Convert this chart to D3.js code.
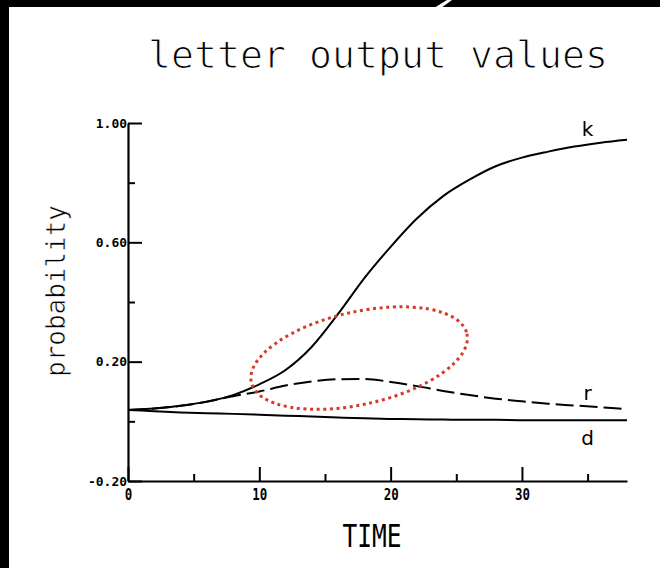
<!DOCTYPE html>
<html>
<head>
<meta charset="utf-8">
<script src="https://cdn.jsdelivr.net/npm/d3@7"></script>
<style>
  html, body { margin: 0; padding: 0; background: #fff; }
  svg { display: block; }
</style>
</head>
<body>
<svg id="chart" width="660" height="568"></svg>
<script>
// ---- data ----
const times   = [0, 2, 4, 6, 8, 10, 12, 14, 16, 18, 20, 22, 24, 26, 28, 30, 32, 34, 36, 38];
const kValues = [0.038, 0.043, 0.052, 0.066, 0.088, 0.124, 0.172, 0.250, 0.360, 0.480, 0.585, 0.680, 0.755, 0.810, 0.855, 0.884, 0.904, 0.921, 0.934, 0.944];
const rValues = [0.038, 0.043, 0.052, 0.066, 0.084, 0.100, 0.120, 0.134, 0.141, 0.142, 0.132, 0.118, 0.102, 0.088, 0.076, 0.067, 0.059, 0.053, 0.047, 0.041];
const dValues = [0.038, 0.034, 0.030, 0.027, 0.025, 0.022, 0.019, 0.016, 0.013, 0.010, 0.008, 0.007, 0.006, 0.005, 0.005, 0.004, 0.004, 0.004, 0.004, 0.004];
const seriesNames = ["k", "r", "d"];
const yMajorTicks = [-0.2, 0.2, 0.6, 1.0];
const yMinorTicks = [0.0, 0.4, 0.8];
const xMajorTicks = [0, 10, 20, 30];
const xMinorTicks = [5, 15, 25, 35];
const titleText = "letter output values";
const yTitle = "probability";
const xTitle = "TIME";
const highlightCenter = [17.6, 0.212]; // annotation ellipse centre (time, probability)

// ---- drawing ----
const svg = d3.select("#chart");
svg.append("rect").attr("width", 660).attr("height", 568).attr("fill", "#fff");

const x = d3.scaleLinear().domain([0, 38]).range([128, 627]);
const y = d3.scaleLinear().domain([-0.2, 1.0]).range([481, 123]);

const mono = "'DejaVu Sans Mono', monospace";
const plainLocale = d3.formatLocale({ decimal: ".", thousands: ",", grouping: [3], currency: ["", ""], minus: "-" });
const fmtY = plainLocale.format(".2f");

// title
svg.append("text")
  .attr("x", 148).attr("y", 68)
  .attr("textLength", 460).attr("lengthAdjust", "spacingAndGlyphs")
  .attr("font-family", mono).attr("font-size", 37)
  .attr("fill", "#000").attr("stroke", "#fff").attr("stroke-width", 1.1)
  .text(titleText);

// y title
svg.append("text")
  .attr("transform", "translate(65,291) rotate(-90)")
  .attr("text-anchor", "middle")
  .attr("textLength", 172).attr("lengthAdjust", "spacingAndGlyphs")
  .attr("font-family", mono).attr("font-size", 26)
  .attr("fill", "#000").attr("stroke", "#fff").attr("stroke-width", 0.6)
  .text(yTitle);

// x title
svg.append("text")
  .attr("x", 372).attr("y", 547)
  .attr("text-anchor", "middle")
  .attr("textLength", 59).attr("lengthAdjust", "spacingAndGlyphs")
  .attr("font-family", mono).attr("font-size", 32)
  .attr("fill", "#000")
  .text(xTitle);

// axes
const yAxis = d3.axisLeft(y).tickValues(yMajorTicks).tickSize(-14).tickSizeOuter(0)
  .tickPadding(1).tickFormat(fmtY);
const gy = svg.append("g").attr("transform", `translate(${x(0)},0)`).call(yAxis);
gy.select(".domain").attr("stroke-width", 2.2);
gy.selectAll(".tick line").attr("stroke-width", 2);
gy.selectAll(".tick text").attr("font-family", mono).attr("font-weight", "bold")
  .attr("font-size", 13).attr("fill", "#000")
  .attr("textLength", d => fmtY(d).length * 7.8).attr("lengthAdjust", "spacingAndGlyphs");

const yMinor = d3.axisLeft(y).tickValues(yMinorTicks).tickSize(-7).tickSizeOuter(0).tickFormat("");
const gym = svg.append("g").attr("transform", `translate(${x(0)},0)`).call(yMinor);
gym.select(".domain").remove();
gym.selectAll(".tick line").attr("stroke-width", 2);

const xAxis = d3.axisBottom(x).tickValues(xMajorTicks).tickSize(-14).tickSizeOuter(0)
  .tickPadding(8).tickFormat(d3.format("d"));
const gx = svg.append("g").attr("transform", `translate(0,${y(-0.2)})`).call(xAxis);
gx.select(".domain").attr("stroke-width", 2.2);
gx.selectAll(".tick line").attr("stroke-width", 2);
gx.selectAll(".tick text").attr("font-family", mono).attr("font-weight", "bold")
  .attr("font-size", 15).attr("fill", "#000")
  .attr("textLength", d => String(d).length * 7.5).attr("lengthAdjust", "spacingAndGlyphs");

const xMinor = d3.axisBottom(x).tickValues(xMinorTicks).tickSize(-7).tickSizeOuter(0).tickFormat("");
const gxm = svg.append("g").attr("transform", `translate(0,${y(-0.2)})`).call(xMinor);
gxm.select(".domain").remove();
gxm.selectAll(".tick line").attr("stroke-width", 2);

// series
const series = [
  { name: seriesNames[0], values: kValues, dash: null, labelDy: -4 },
  { name: seriesNames[1], values: rValues, dash: "18,6", labelDy: -9 },
  { name: seriesNames[2], values: dValues, dash: null, labelDy: 25 }
];
const line = d3.line().x((d, i) => x(times[i])).y(d => y(d)).curve(d3.curveMonotoneX);

series.forEach(s => {
  svg.append("path")
    .attr("d", line(s.values))
    .attr("fill", "none").attr("stroke", "#000").attr("stroke-width", 2)
    .attr("stroke-dasharray", s.dash);
  const last = s.values[s.values.length - 1];
  svg.append("text")
    .attr("x", x(35)).attr("y", y(last) + s.labelDy)
    .attr("text-anchor", "middle")
    .attr("font-family", "'DejaVu Sans', sans-serif").attr("font-size", 20)
    .attr("fill", "#000")
    .text(s.name);
});

// red dotted highlight ellipse
const cx = x(highlightCenter[0]), cy = y(highlightCenter[1]);
svg.append("ellipse")
  .attr("cx", cx).attr("cy", cy).attr("rx", 110.5).attr("ry", 46.3)
  .attr("transform", `rotate(-12.7,${cx},${cy})`)
  .attr("fill", "none").attr("stroke", "#d63a26").attr("stroke-width", 3)
  .attr("stroke-dasharray", "3,3.6");

// black scan border (top & left) with small white notch
svg.append("rect").attr("x", 0).attr("y", 0).attr("width", 660).attr("height", 7).attr("fill", "#000");
svg.append("rect").attr("x", 0).attr("y", 0).attr("width", 9).attr("height", 568).attr("fill", "#000");
svg.append("polygon").attr("points", "434,8 447,0 452,0 441,8").attr("fill", "#fff");
</script>
</body>
</html>
